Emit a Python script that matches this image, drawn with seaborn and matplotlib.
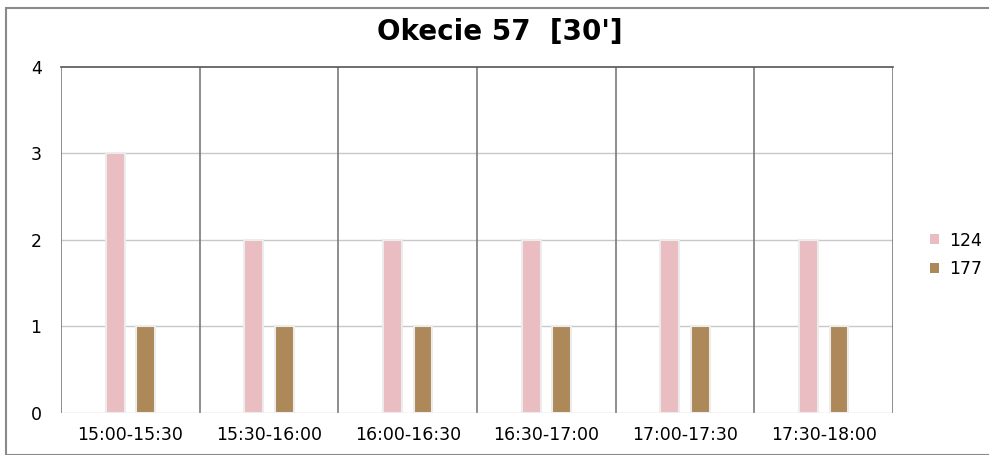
import matplotlib

matplotlib.use("Agg")
import matplotlib.pyplot as plt
import pandas as pd
import seaborn as sns
from matplotlib.patches import Patch, Rectangle

intervals = ["15:00-15:30", "15:30-16:00", "16:00-16:30",
             "16:30-17:00", "17:00-17:30", "17:30-18:00"]
series_124 = [3, 2, 2, 2, 2, 2]
series_177 = [1, 1, 1, 1, 1, 1]
series_names = ["124", "177"]

df = pd.DataFrame({
    "interval": intervals * 2,
    "count": series_124 + series_177,
    "line": [series_names[0]] * len(intervals) + [series_names[1]] * len(intervals),
})

sns.set_theme(style="white")
# wide glyphs, closer to the stretched text of the original
plt.rcParams["font.family"] = ["DejaVu Sans"]
plt.rcParams["text.color"] = "black"

fig = plt.figure(figsize=(9.89, 4.55), dpi=100)
ax = fig.add_axes([0.0617, 0.0923, 0.8413, 0.7605])

palette = {"124": "#e9bdc1", "177": "#ad8858"}
sns.barplot(data=df, x="interval", y="count", hue="line", order=intervals,
            hue_order=series_names, palette=palette, width=0.44, gap=0.38,
            edgecolor="#ececec", linewidth=1.5, saturation=1, legend=False, ax=ax)

ax.set_xlim(-0.5, len(intervals) - 0.5)
ax.set_ylim(0, 4)
ax.set_yticks([0, 1, 2, 3, 4])
for y in [1, 2, 3]:
    ax.axhline(y, color="#c8c8c8", lw=1, zorder=0)
for x in range(len(intervals) + 1):
    ax.axvline(x - 0.5, color="#7a7a7a", lw=1.2, zorder=0)
for s in ["left", "right", "bottom"]:
    ax.spines[s].set_visible(False)
ax.spines["top"].set_color("#555555")
ax.spines["top"].set_linewidth(1.2)
ax.axhline(0, color="#d0d0d0", lw=1, zorder=0)

ax.set_xlabel("")
ax.set_ylabel("")
ax.tick_params(axis="both", length=0, labelsize=12.5, colors="black")
ax.tick_params(axis="y", pad=14)
ax.tick_params(axis="x", pad=9)

fig.suptitle("Okecie 57  [30']", x=0.505, y=0.96, fontsize=20, fontweight="bold",
             color="black")

handles = [Patch(facecolor=palette[n], edgecolor="none") for n in series_names]
fig.legend(handles, series_names, loc="center left", bbox_to_anchor=(0.925, 0.44),
           frameon=False, fontsize=12.5, handlelength=0.5, handleheight=0.5,
           handletextpad=0.6, labelspacing=0.6, labelcolor="black")

fig.patches.append(Rectangle((0.006, 0.0), 1.2, 0.983, transform=fig.transFigure,
                             fill=False, edgecolor="#8a8a8a", lw=1.5))

fig.savefig("out.png", dpi=100)
